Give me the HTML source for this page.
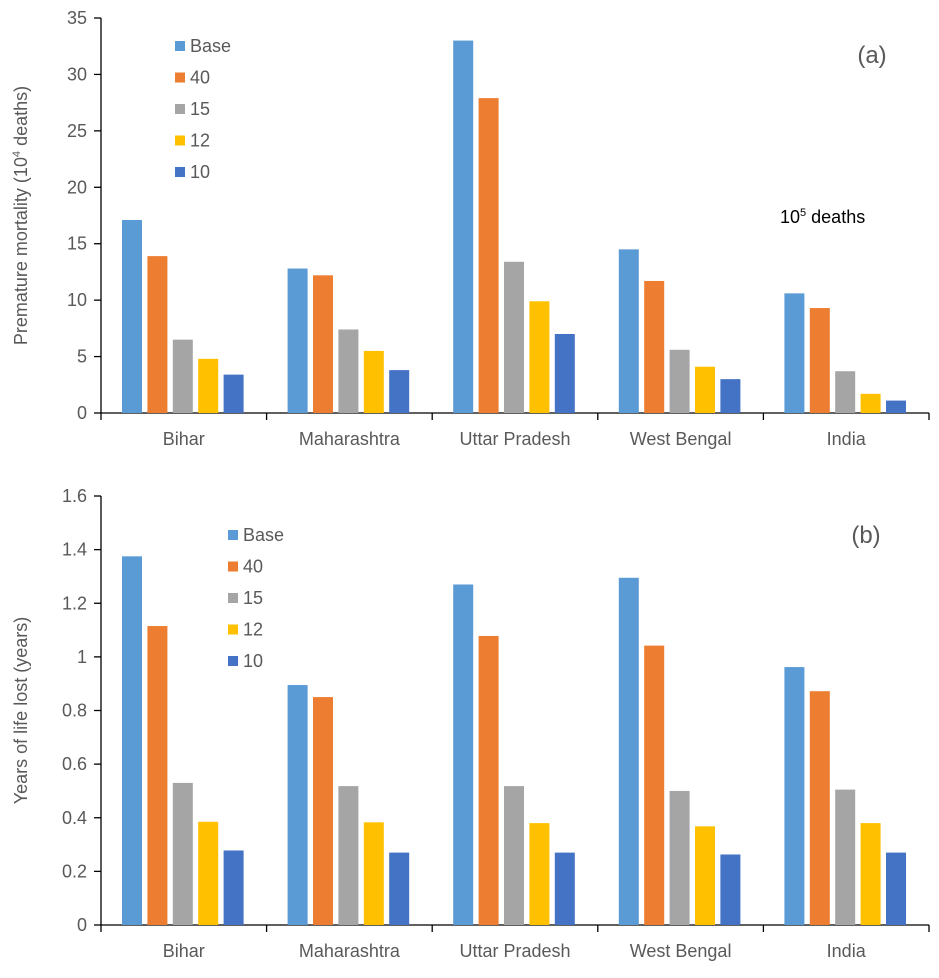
<!DOCTYPE html>
<html><head><meta charset="utf-8"><style>
html,body{margin:0;padding:0;background:#fff;}
svg text{font-family:"Liberation Sans",Arial,sans-serif;fill:#595959;}
</style></head><body>
<svg id="chart" width="939" height="973" xmlns="http://www.w3.org/2000/svg"></svg>
<script>
const categories = ["Bihar","Maharashtra","Uttar Pradesh","West Bengal","India"];
const seriesNames = ["Base","40","15","12","10"];
const mortBase = [17.1,12.8,33.0,14.5,10.6];
const mort40 = [13.9,12.2,27.9,11.7,9.3];
const mort15 = [6.5,7.4,13.4,5.6,3.7];
const mort12 = [4.8,5.5,9.9,4.1,1.7];
const mort10 = [3.4,3.8,7.0,3.0,1.1];
const yllBase = [1.375,0.895,1.27,1.295,0.962];
const yll40 = [1.115,0.85,1.078,1.042,0.872];
const yll15 = [0.53,0.518,0.518,0.5,0.505];
const yll12 = [0.385,0.383,0.38,0.368,0.38];
const yll10 = [0.278,0.27,0.27,0.263,0.27];
const ticksA = [0,5,10,15,20,25,30,35];
const ticksB = ["0","0.2","0.4","0.6","0.8","1","1.2","1.4","1.6"];
const colors = ["#5B9BD5","#ED7D31","#A5A5A5","#FFC000","#4472C4"];

const svg = document.getElementById('chart');
const NS = "http://www.w3.org/2000/svg";
function mk(tag, attrs, parent){const e=document.createElementNS(NS,tag);for(const k in attrs)e.setAttribute(k,attrs[k]);(parent||svg).appendChild(e);return e;}

function panel(cfg){
  const g = mk('g',{});
  
  
  const x0=101,x1=929,catW=(x1-x0)/categories.length;
  const y=v=>cfg.yBase-(v/cfg.max)*(cfg.yBase-cfg.yTop);
  const ya=mk('line',{x1:x0,y1:cfg.yTop,x2:x0,y2:cfg.yBase,stroke:'#000','stroke-width':1.3},g);
  
  
  cfg.ticks.forEach(t=>{
    const v=parseFloat(t);
    const tl=mk('line',{x1:x0-7,y1:y(v),x2:x0,y2:y(v),stroke:'#000','stroke-width':1.3},g);
    
    
    const tx=mk('text',{x:x0-14,y:y(v)+6,'text-anchor':'end','font-size':18},g);
    tx.textContent=t;
    
    
  });
  const xa=mk('line',{x1:x0,y1:cfg.yBase,x2:x1,y2:cfg.yBase,stroke:'#000','stroke-width':1.3},g);
  
  
  for(let i=0;i<=categories.length;i++){
    const cx=x0+i*catW;
    const tl=mk('line',{x1:cx,y1:cfg.yBase,x2:cx,y2:cfg.yBase+7,stroke:'#000','stroke-width':1.3},g);
    
    
  }
  categories.forEach((c,i)=>{
    const tx=mk('text',{x:x0+(i+0.5)*catW,y:cfg.yBase+32,'text-anchor':'middle','font-size':18},g);
    tx.textContent=c;
    
    
    cfg.series.forEach((s,j)=>{
      const bx=x0+i*catW+21+j*25.4;
      const v=parseFloat(s[i]);
      const r=mk('rect',{x:bx,y:y(v),width:20,height:cfg.yBase-y(v),fill:colors[j]},g);
      
      
    });
  });
  seriesNames.forEach((n,j)=>{
    const ly=cfg.legY+j*31.5;
    const r=mk('rect',{x:cfg.legX,y:ly-5,width:10,height:10,fill:colors[j]},g);
    
    
    const t=mk('text',{x:cfg.legX+15,y:ly+6,'font-size':18},g);
    t.textContent=n;
    
    
  });
  const yt=mk('text',{x:0,y:0,'text-anchor':'middle','font-size':18,transform:`translate(${cfg.ytX},${(cfg.yTop+cfg.yBase)/2}) rotate(-90)`},g);
  yt.innerHTML=cfg.ytitle;
  
  
  const pl=mk('text',{x:cfg.plX,y:cfg.plY,'font-size':24,'text-anchor':'middle'},g);
  pl.textContent=cfg.label;
  
  
  return {g,y};
}
const A=panel({name:'panel-a',yTop:18,yBase:413,max:35,ticks:ticksA.map(String),series:[mortBase,mort40,mort15,mort12,mort10],legX:175,legY:46,ytitle:'Premature mortality (10<tspan font-size="11" dy="-7">4</tspan><tspan dy="7"> deaths)</tspan>',ytX:27,label:'(a)',plX:872,plY:63});
const note=mk('text',{x:780,y:223,'font-size':18,style:'fill:#000'},A.g);
note.innerHTML='10<tspan font-size="11" dy="-7">5</tspan><tspan dy="7"> deaths</tspan>';


panel({name:'panel-b',yTop:496,yBase:925,max:1.6,ticks:ticksB,series:[yllBase,yll40,yll15,yll12,yll10],legX:228,legY:535,ytitle:'Years of life lost (years)',ytX:27,label:'(b)',plX:866,plY:543});
</script>
</body></html>
